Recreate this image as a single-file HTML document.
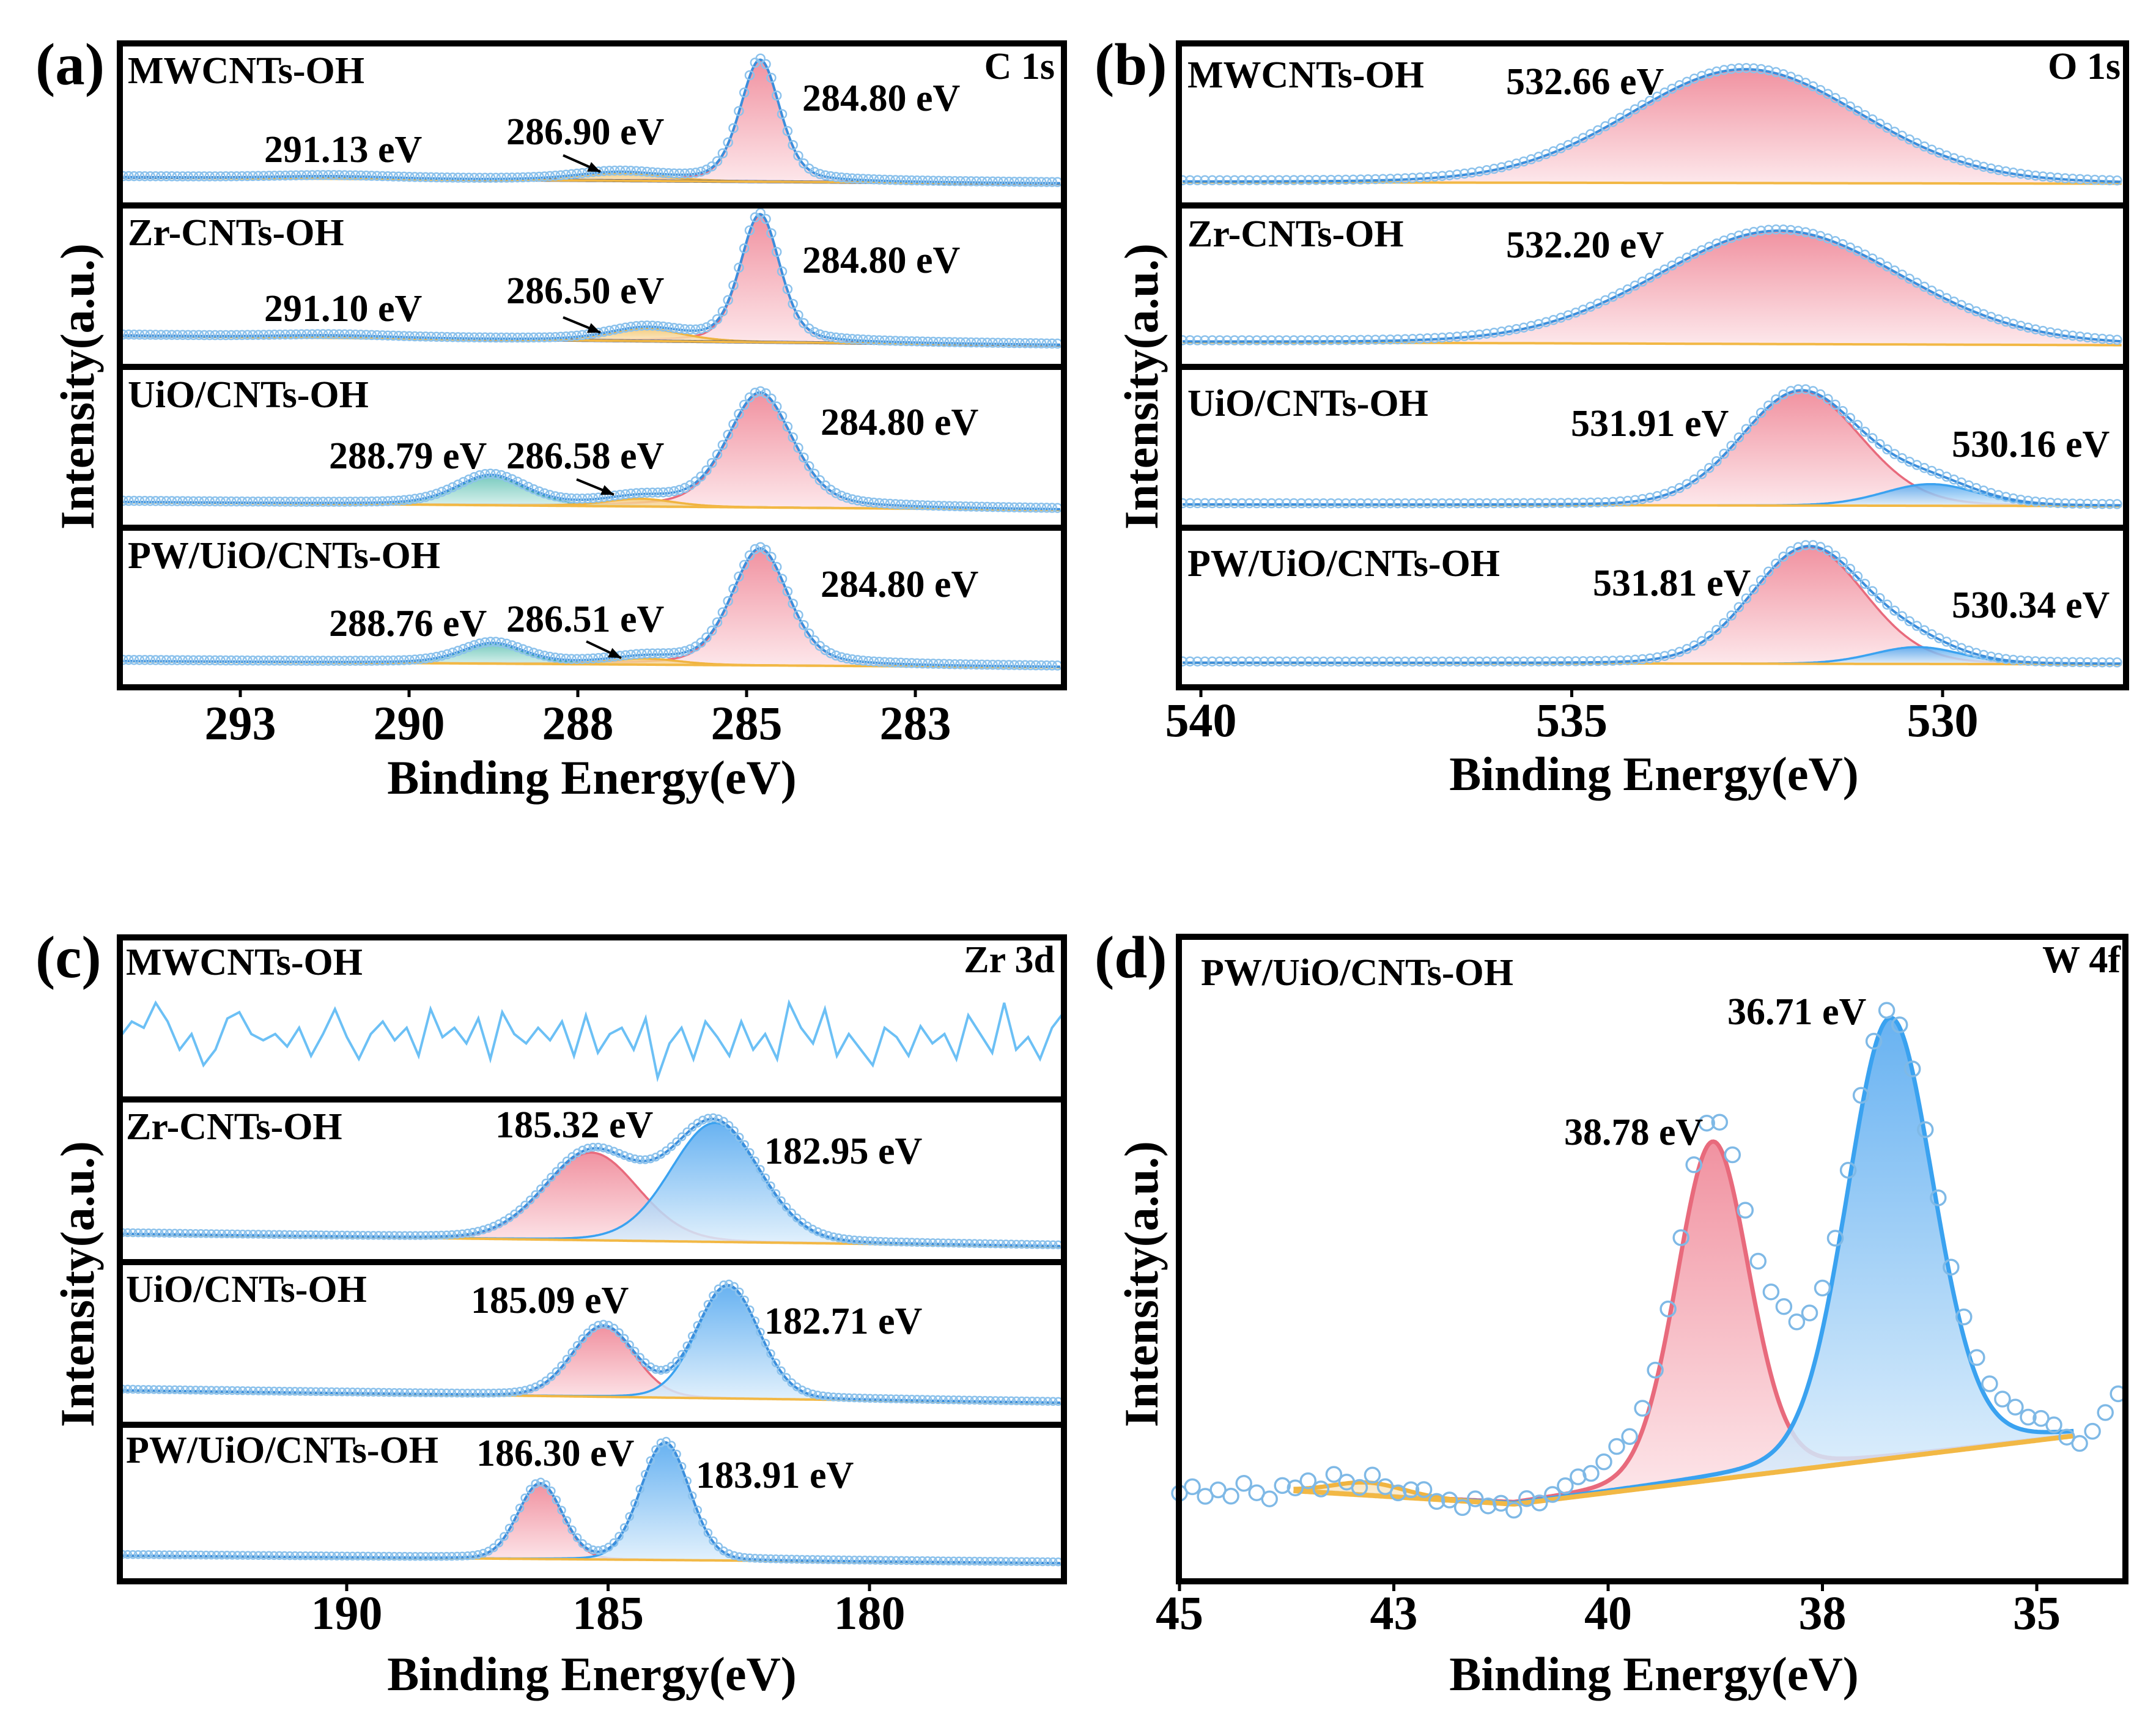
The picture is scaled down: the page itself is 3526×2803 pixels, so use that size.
<!DOCTYPE html>
<html><head><meta charset="utf-8"><style>
html,body{margin:0;padding:0;background:#fff;}
svg{display:block;}
text{font-family:"Liberation Serif",serif;font-weight:bold;fill:#000;}
.lab{font-size:62px;}
.tick{font-size:78px;}
.ttl{font-size:78px;}
.yl{font-size:78px;}
.pl{font-size:97px;}
</style></head><body>
<svg id="chart" width="3526" height="2803" viewBox="0 0 3526 2803" xmlns="http://www.w3.org/2000/svg">
<defs>
<linearGradient id="gr" x1="0" y1="0" x2="0" y2="1"><stop offset="0" stop-color="#ee7f90"/><stop offset="1" stop-color="#fde4e8"/></linearGradient>
<linearGradient id="gb" x1="0" y1="0" x2="0" y2="1"><stop offset="0" stop-color="#4ea5ef"/><stop offset="1" stop-color="#e0f0fc"/></linearGradient>
<linearGradient id="gt" x1="0" y1="0" x2="0" y2="1"><stop offset="0" stop-color="#62c2b4"/><stop offset="1" stop-color="#e2f5f1"/></linearGradient>
<linearGradient id="gy" x1="0" y1="0" x2="0" y2="1"><stop offset="0" stop-color="#f3c46a"/><stop offset="1" stop-color="#fdf1da"/></linearGradient>
</defs>
<g id="marks"></g>
<g id="frames"></g>

<text class="pl" x="58" y="138">(a)</text>
<text class="pl" x="1790" y="138">(b)</text>
<text class="pl" x="58" y="1598">(c)</text>
<text class="pl" x="1790" y="1598">(d)</text>

<text class="yl" text-anchor="middle" transform="translate(153,632) rotate(-90)">Intensity(a.u.)</text>
<text class="yl" text-anchor="middle" transform="translate(1893,632) rotate(-90)">Intensity(a.u.)</text>
<text class="yl" text-anchor="middle" transform="translate(153,2100) rotate(-90)">Intensity(a.u.)</text>
<text class="yl" text-anchor="middle" transform="translate(1893,2100) rotate(-90)">Intensity(a.u.)</text>

<text class="ttl" text-anchor="middle" x="968" y="1298">Binding Energy(eV)</text>
<text class="ttl" text-anchor="middle" x="2705" y="1292">Binding Energy(eV)</text>
<text class="ttl" text-anchor="middle" x="968" y="2764">Binding Energy(eV)</text>
<text class="ttl" text-anchor="middle" x="2705" y="2764">Binding Energy(eV)</text>

<g class="lab">
<text x="209" y="136">MWCNTs-OH</text>
<text x="1725" y="129" text-anchor="end">C 1s</text>
<text x="1312" y="181">284.80 eV</text>
<text x="828" y="236">286.90 eV</text>
<text x="432" y="265">291.13 eV</text>
<text x="209" y="401">Zr-CNTs-OH</text>
<text x="1312" y="446">284.80 eV</text>
<text x="828" y="496">286.50 eV</text>
<text x="432" y="525">291.10 eV</text>
<text x="209" y="666">UiO/CNTs-OH</text>
<text x="1342" y="711">284.80 eV</text>
<text x="538" y="766">288.79 eV</text>
<text x="828" y="766">286.58 eV</text>
<text x="209" y="929">PW/UiO/CNTs-OH</text>
<text x="1342" y="976">284.80 eV</text>
<text x="538" y="1040">288.76 eV</text>
<text x="828" y="1033">286.51 eV</text>

<text x="1942" y="143">MWCNTs-OH</text>
<text x="3468" y="129" text-anchor="end">O 1s</text>
<text x="2463" y="154">532.66 eV</text>
<text x="1942" y="403">Zr-CNTs-OH</text>
<text x="2463" y="421">532.20 eV</text>
<text x="1942" y="680">UiO/CNTs-OH</text>
<text x="2569" y="713">531.91 eV</text>
<text x="3192" y="747">530.16 eV</text>
<text x="1942" y="942">PW/UiO/CNTs-OH</text>
<text x="2605" y="974">531.81 eV</text>
<text x="3192" y="1010">530.34 eV</text>

<text x="206" y="1594">MWCNTs-OH</text>
<text x="1725" y="1590" text-anchor="end">Zr 3d</text>
<text x="206" y="1863">Zr-CNTs-OH</text>
<text x="810" y="1860">185.32 eV</text>
<text x="1250" y="1903">182.95 eV</text>
<text x="206" y="2129">UiO/CNTs-OH</text>
<text x="770" y="2147">185.09 eV</text>
<text x="1250" y="2181">182.71 eV</text>
<text x="206" y="2392">PW/UiO/CNTs-OH</text>
<text x="779" y="2397">186.30 eV</text>
<text x="1138" y="2433">183.91 eV</text>

<text x="1964" y="1611">PW/UiO/CNTs-OH</text>
<text x="3468" y="1590" text-anchor="end">W 4f</text>
<text x="2825" y="1675">36.71 eV</text>
<text x="2558" y="1872">38.78 eV</text>
</g>
</svg>
<script>
// ---- panel (a) C 1s data ----
const aTicks=[292.5,290,287.5,285,282.5];
const aTickLabels=['293','290','288','285','283'];
const aBaseL=[0.84,0.82,0.855,0.85];
const aBaseR=[0.88,0.88,0.905,0.89];
const aCenters=[[284.80,286.90,291.13],[284.80,286.50,291.10],[284.80,288.79,286.58],[284.80,288.76,286.51]];
const aHeights=[[0.78,0.05,0.015],[0.82,0.08,0.015],[0.74,0.19,0.05],[0.76,0.13,0.04]];
const aWidths=[[0.7,1.5,2.0],[0.7,1.3,2.0],[1.15,1.2,1.2],[1.0,1.1,1.2]];
const aKinds=[['r','y','n'],['r','y','n'],['r','t','y'],['r','t','y']];
// ---- panel (b) O 1s data ----
const bTicks=[540,535,530];
const bTickLabels=['540','535','530'];
const bBaseL=[0.87,0.86,0.87,0.86];
const bBaseR=[0.88,0.88,0.88,0.87];
const bCenters=[[532.66],[532.20],[531.91,530.16],[531.81,530.34]];
const bHeights=[[0.73],[0.73],[0.74,0.14],[0.76,0.11]];
const bWidths=[[3.7],[3.9],[1.9,1.5],[1.8,1.4]];
const bKinds=[['r'],['r'],['r','b'],['r','b']];
// ---- panel (c) Zr 3d data ----
const cTicks=[190,185,180];
const cTickLabels=['190','185','180'];
const cNoise=[0.62,0.52,0.56,0.4,0.52,0.7,0.6,0.8,0.7,0.5,0.46,0.6,0.64,0.6,0.68,0.56,0.74,0.6,0.44,0.62,0.76,0.6,0.52,0.64,0.56,0.74,0.44,0.62,0.56,0.66,0.5,0.76,0.46,0.6,0.66,0.56,0.64,0.52,0.74,0.48,0.72,0.6,0.56,0.7,0.5,0.88,0.66,0.56,0.76,0.52,0.62,0.74,0.52,0.7,0.6,0.76,0.4,0.56,0.66,0.44,0.74,0.6,0.7,0.8,0.56,0.62,0.74,0.55,0.66,0.6,0.76,0.48,0.6,0.72,0.4,0.7,0.62,0.76,0.56,0.46];
const cBaseL=[0,0.84,0.80,0.85];
const cBaseR=[0,0.92,0.88,0.90];
const cCenters=[[],[185.32,182.95],[185.09,182.71],[186.30,183.91]];
const cHeights=[[],[0.56,0.76],[0.45,0.72],[0.5,0.78]];
const cWidths=[[],[2.1,2.0],[1.4,1.4],[1.0,1.1]];
const cKinds=[[],['r','b'],['r','b'],['r','b']];
// ---- panel (d) W 4f data ----
const dTicks=[45,42.5,40,37.5,35];
const dTickLabels=['45','43','40','38','35'];
const dBaseE=[43.67,41.1,34.57];
const dBaseF=[0.863,0.884,0.777];
const dCenters=[38.78,36.71,42.8];
const dHeights=[0.53,0.69,0.02];
const dWidths=[1.0,1.2,1.0];
const dKinds=['r','b','y'];
const dDev=[0.005,-0.005,0.01,0,0.01,-0.01,0.005,0.015,-0.005,0,-0.01,0.005,-0.015,0,0.01,-0.01,0.005,0.01,0,-0.005,0.01,0.005,0.015,0,0.01,0.005,0.015,0,0.01,0,-0.01,-0.02,-0.02,-0.03,-0.04,-0.03,-0.03,-0.02,-0.02,-0.02,-0.03,-0.03,-0.03,-0.04,-0.05,-0.07,-0.1,-0.12,-0.1,-0.08,-0.05,-0.03,-0.02,-0.02,-0.01,-0.01,0,0,-0.01,-0.02,-0.02,-0.03,-0.03,-0.03,-0.03,-0.03,-0.02,-0.02,-0.01,0.01,0.02,0,-0.03,-0.06];

const NS='http://www.w3.org/2000/svg';
const marks=document.getElementById('marks');
const frames=document.getElementById('frames');
function mk(tag,attrs,parent){const e=document.createElementNS(NS,tag);for(const k in attrs)e.setAttribute(k,attrs[k]);parent.appendChild(e);return e;}
const FILL={r:'url(#gr)',b:'url(#gb)',t:'url(#gt)',y:'url(#gy)',n:'none'};
const LINE={r:'#e86a7c',b:'#3aa2f0',t:'#48b0a4',y:'#f0b440',n:'#1f3f8a'};
function pv(x,c,h,f,eta){const s=(x-c)/(f/2);return h*(eta/(1+s*s)+(1-eta)*Math.exp(-Math.LN2*s*s));}

function panel(P){
  const fr=mk('rect',{x:P.x0,y:P.rows[0],width:P.x1-P.x0,height:P.rows[P.rows.length-1]-P.rows[0],fill:'none',stroke:'#000','stroke-width':10},frames);
  
  
  for(let i=1;i<P.rows.length-1;i++){
    const dv=mk('line',{x1:P.x0,x2:P.x1,y1:P.rows[i],y2:P.rows[i],stroke:'#000','stroke-width':10},frames);
    
    
  }
  const yb=P.rows[P.rows.length-1];
  P.ticks.forEach((t,i)=>{
    const x=P.sx(t);
    const tk=mk('line',{x1:x,x2:x,y1:yb,y2:yb+16,stroke:'#000','stroke-width':5},frames);
    
    
    const tl=mk('text',{x:x,y:P.tickY,'text-anchor':'middle','class':'tick'},frames);
    tl.textContent=P.tickLabels[i];
    
    
  });
}

function drawRow(P,ri,baseFn,comps,eta,step,r,eRange){
  const top=P.rows[ri]+5,bot=P.rows[ri+1]-5,h=bot-top;
  const Y=f=>top+f*h;
  const [e0,e1]=eRange;
  const g=mk('g',{},marks);
  
  
  const es=[];for(let e=e0;e>=e1-1e-9;e-=0.02)es.push(e);
  comps.forEach(c=>{
    const up=es.map(e=>[P.sx(e),Y(baseFn(e)-pv(e,c.c,c.h,c.w,eta))]);
    const lo=es.map(e=>[P.sx(e),Y(baseFn(e))]).reverse();
    if(c.k!=='n'){
      const ar=mk('path',{d:'M'+up.concat(lo).map(p=>p[0].toFixed(1)+','+p[1].toFixed(1)).join('L')+'Z',fill:FILL[c.k],'fill-opacity':0.85},g);
      
      
    }
    const ln=mk('polyline',{points:up.map(p=>p[0].toFixed(1)+','+p[1].toFixed(1)).join(' '),fill:'none',stroke:LINE[c.k],'stroke-width':c.k==='n'?5:3.5},g);
    
    
  });
  const bl=mk('polyline',{points:es.map(e=>P.sx(e).toFixed(1)+','+Y(baseFn(e)).toFixed(1)).join(' '),fill:'none',stroke:'#f2b845','stroke-width':4},g);
  
  
  const env=e=>baseFn(e)-comps.reduce((s,c)=>s+pv(e,c.c,c.h,c.w,eta),0);
  const ev=mk('polyline',{points:es.map(e=>P.sx(e).toFixed(1)+','+Y(env(e)).toFixed(1)).join(' '),fill:'none',stroke:'#3b8edc','stroke-width':4},g);
  
  
  for(let e=e0;e>=e1;e-=step){
    const ci=mk('circle',{cx:P.sx(e).toFixed(1),cy:(Y(env(e))-2).toFixed(1),r:r,fill:'none',stroke:'#8cc2ec','stroke-width':2.5},g);
    
    
  }
}

// panel a
const PA={id:'a',x0:196,x1:1740,rows:[71,336,600,863,1124],sx:e=>1221+(285-e)*110.4,ticks:aTicks,tickLabels:aTickLabels,tickY:1209};
const aE0=285+(1221-196)/110.4,aE1=285-(1740-1221)/110.4;
for(let i=0;i<4;i++){
  const bf=e=>aBaseL[i]+(aBaseR[i]-aBaseL[i])*(aE0-e)/(aE0-aE1);
  const comps=aCenters[i].map((c,j)=>({c:c,h:aHeights[i][j],w:aWidths[i][j],k:aKinds[i][j]}));
  drawRow(PA,i,bf,comps,0.35,0.08,7,[aE0-0.05,aE1+0.05]);
}
panel(PA);
[[921,254,982,281],[921,519,982,544],[943,784,1004,809],[959,1049,1016,1076]].forEach(a=>{
  const ln=mk('line',{x1:a[0],y1:a[1],x2:a[2],y2:a[3],stroke:'#000','stroke-width':4},marks);
  
  
  const ang=Math.atan2(a[3]-a[1],a[2]-a[0]);
  const p=[[a[2],a[3]],[a[2]-22*Math.cos(ang-0.4),a[3]-22*Math.sin(ang-0.4)],[a[2]-22*Math.cos(ang+0.4),a[3]-22*Math.sin(ang+0.4)]];
  const hd=mk('polygon',{points:p.map(q=>q.join(',')).join(' '),fill:'#000'},marks);
  
  
});

// panel b
const PB={id:'b',x0:1928,x1:3477,rows:[71,336,600,863,1124],sx:e=>1964+(540-e)*121.3,ticks:bTicks,tickLabels:bTickLabels,tickY:1204};
const bE0=540+(1964-1928)/121.3,bE1=540-(3477-1964)/121.3;
for(let i=0;i<4;i++){
  const bf=e=>bBaseL[i]+(bBaseR[i]-bBaseL[i])*(bE0-e)/(bE0-bE1);
  const comps=bCenters[i].map((c,j)=>({c:c,h:bHeights[i][j],w:bWidths[i][j],k:bKinds[i][j]}));
  drawRow(PB,i,bf,comps,0.1,0.1,7,[bE0-0.05,bE1+0.05]);
}
panel(PB);

// panel c
const PC={id:'c',x0:196,x1:1740,rows:[1533,1798,2064,2330,2586],sx:e=>567+(190-e)*85.5,ticks:cTicks,tickLabels:cTickLabels,tickY:2664};
const cE0=190+(567-196)/85.5,cE1=190-(1740-567)/85.5;
{
  const top=1538,h=255;
  const pts=cNoise.map((v,i)=>{const e=cE0-(cE0-cE1)*i/(cNoise.length-1);return PC.sx(e).toFixed(1)+','+(top+v*h).toFixed(1);});
  const nl=mk('polyline',{points:pts.join(' '),fill:'none',stroke:'#6cc0f5','stroke-width':4},marks);
  
  
}
for(let i=1;i<4;i++){
  const bf=e=>cBaseL[i]+(cBaseR[i]-cBaseL[i])*(cE0-e)/(cE0-cE1);
  const comps=cCenters[i].map((c,j)=>({c:c,h:cHeights[i][j],w:cWidths[i][j],k:cKinds[i][j]}));
  drawRow(PC,i,bf,comps,0.1,0.1,6,[cE0-0.05,cE1+0.05]);
}
panel(PC);

// panel d
const PD={id:'d',x0:1928,x1:3476,rows:[1532,2586],sx:e=>1929+(45-e)*140.2,ticks:dTicks,tickLabels:dTickLabels,tickY:2664};
{
  const top=1537,h=1044;
  const Y=f=>top+f*h;
  const base=e=>{
    if(e>=dBaseE[0])return dBaseF[0];
    if(e<=dBaseE[2])return dBaseF[2];
    if(e>=dBaseE[1])return dBaseF[0]+(dBaseF[1]-dBaseF[0])*(dBaseE[0]-e)/(dBaseE[0]-dBaseE[1]);
    return dBaseF[1]+(dBaseF[2]-dBaseF[1])*(dBaseE[1]-e)/(dBaseE[1]-dBaseE[2]);
  };
  const g=mk('g',{},marks);
  
  
  const es=[];for(let e=dBaseE[0];e>=dBaseE[2]-1e-9;e-=0.02)es.push(e);
  const comps=dCenters.map((c,j)=>({c:c,h:dHeights[j],w:dWidths[j],k:dKinds[j]}));
  comps.forEach(c=>{
    const up=es.map(e=>[PD.sx(e),Y(base(e)-pv(e,c.c,c.h,c.w,0.15))]);
    const lo=es.map(e=>[PD.sx(e),Y(base(e))]).reverse();
    const ar=mk('path',{d:'M'+up.concat(lo).map(p=>p[0].toFixed(1)+','+p[1].toFixed(1)).join('L')+'Z',fill:FILL[c.k],'fill-opacity':0.85},g);
    
    
    const ln=mk('polyline',{points:up.map(p=>p[0].toFixed(1)+','+p[1].toFixed(1)).join(' '),fill:'none',stroke:LINE[c.k],'stroke-width':7},g);
    
    
  });
  const bl=mk('polyline',{points:es.map(e=>PD.sx(e).toFixed(1)+','+Y(base(e)).toFixed(1)).join(' '),fill:'none',stroke:'#f2b845','stroke-width':8},g);
  
  
  const env=e=>base(e)-comps.reduce((s,c)=>s+pv(e,c.c,c.h,c.w,0.15),0);
  dDev.forEach((dv,i)=>{
    const e=45-0.15*i;
    const ci=mk('circle',{cx:PD.sx(e).toFixed(1),cy:Y(env(e)+dv).toFixed(1),r:12,fill:'none',stroke:'#7fb9e6','stroke-width':3.5},g);
    
    
  });
}
panel(PD);
</script>
</body></html>
